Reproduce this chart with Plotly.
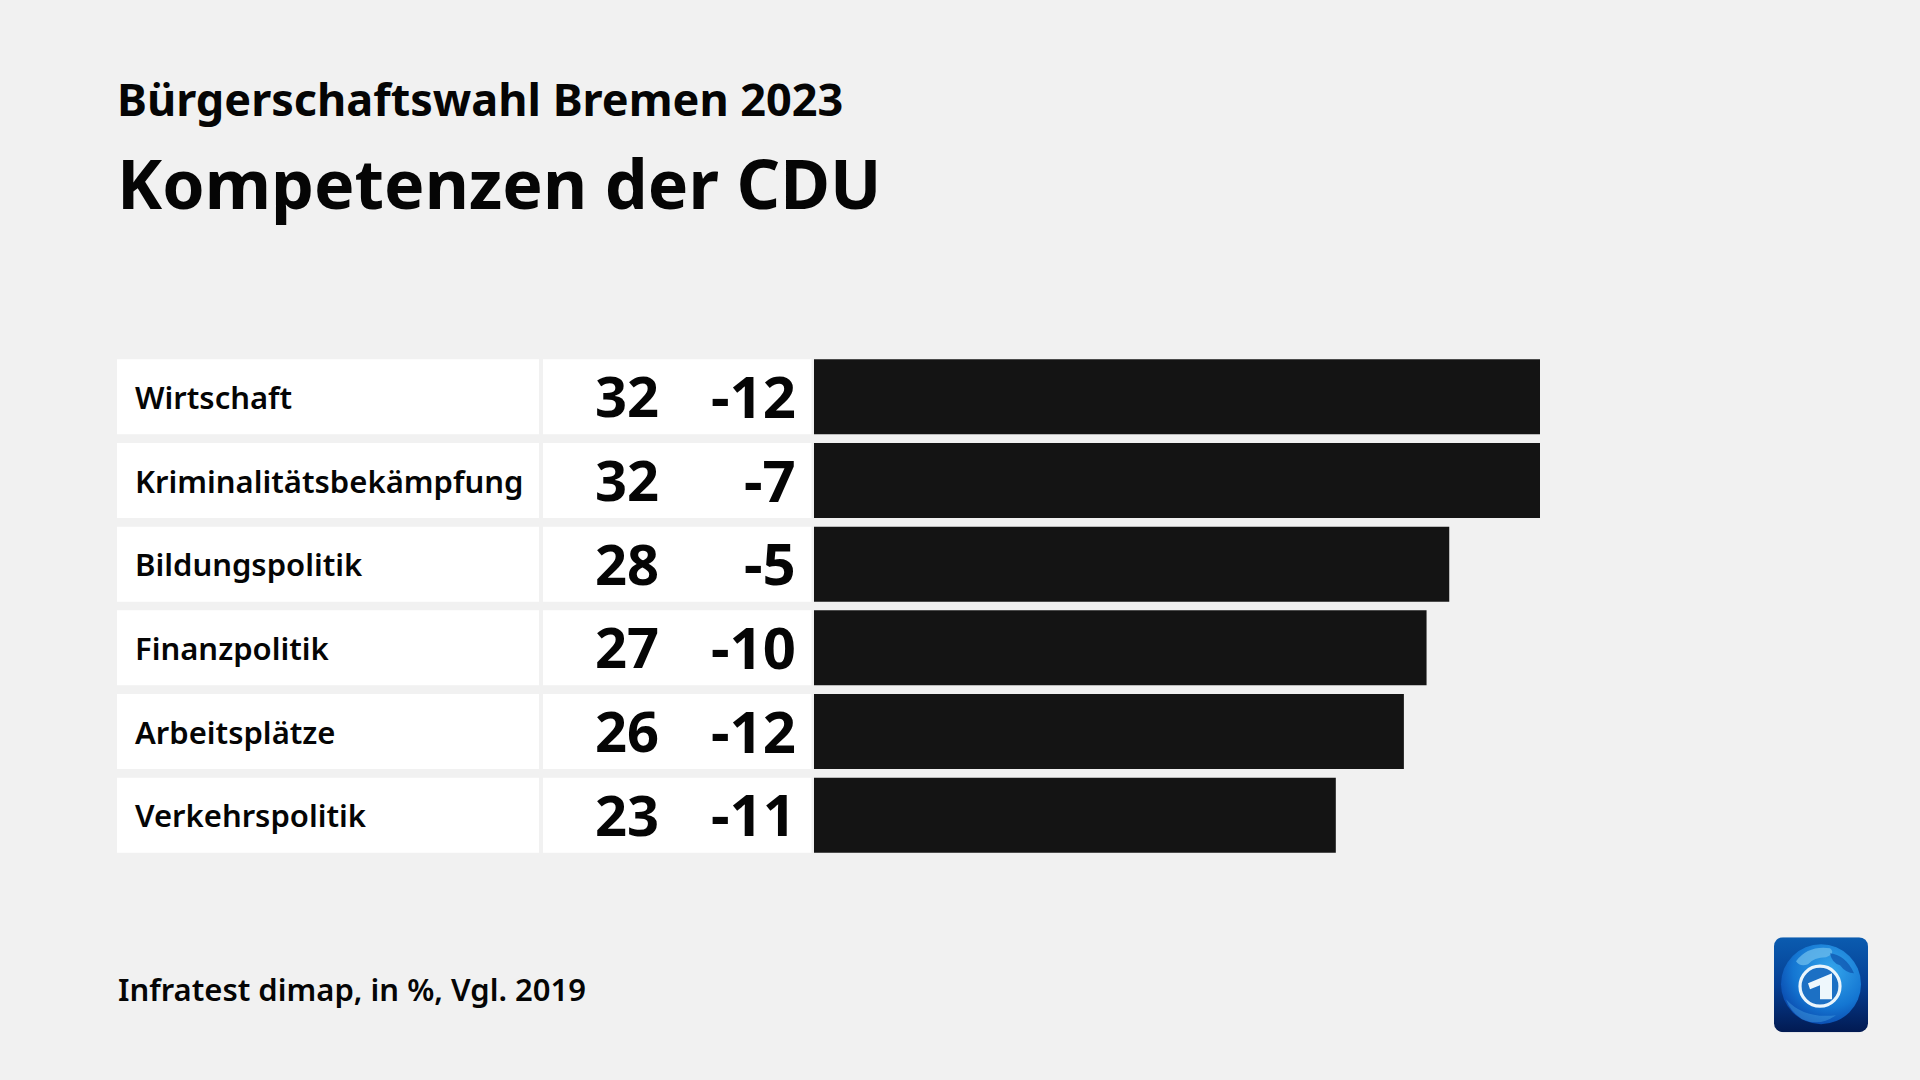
import base64
import plotly.graph_objects as go

categories = ["Wirtschaft", "Kriminalitätsbekämpfung", "Bildungspolitik", "Finanzpolitik", "Arbeitsplätze", "Verkehrspolitik"]
values = [32, 32, 28, 27, 26, 23]
changes = [-12, -7, -5, -10, -12, -11]
subtitle = "Bürgerschaftswahl Bremen 2023"
title = "Kompetenzen der CDU"
source = "Infratest dimap, in %, Vgl. 2019"

W, H = 1920, 1080
FONT = "Noto Sans"
INK = "#050505"
BG = "#f1f1f1"

logo_svg = """<svg xmlns='http://www.w3.org/2000/svg' viewBox='0 0 94 95' width='94' height='95'>
<defs>
<linearGradient id='bg' x1='0' y1='0' x2='0' y2='1'><stop offset='0' stop-color='#0b5cb0'/><stop offset='0.5' stop-color='#053f94'/><stop offset='1' stop-color='#021a52'/></linearGradient>
<radialGradient id='gl' cx='0.62' cy='0.32' r='0.85'><stop offset='0' stop-color='#35a6ec'/><stop offset='0.55' stop-color='#1476d2'/><stop offset='1' stop-color='#05329a'/></radialGradient>
</defs>
<rect width='94' height='95' rx='9' fill='url(#bg)'/>
<circle cx='47' cy='47' r='40' fill='url(#gl)'/>
<path d='M22 24 Q34 8 56 11 Q62 16 52 20 Q40 20 34 27 Q26 30 22 24Z' fill='#6cbcec' opacity='0.75'/>
<path d='M56 16 Q72 18 80 36 Q72 36 66 28 Q58 26 56 16Z' fill='#0b4da8' opacity='0.65'/>
<path d='M12 62 Q30 82 62 78 Q46 90 28 82 Q16 74 12 62Z' fill='#4aa8e6' opacity='0.4'/>
<circle cx='46' cy='49' r='20' fill='#1c70c4' stroke='#eaf5fc' stroke-width='3.2'/>
<path d='M34 46 L58 36 L58 62 L46 62 L46 48 L36 52Z' fill='#eef7fc'/>
</svg>"""
logo_uri = "data:image/svg+xml;base64," + base64.b64encode(logo_svg.encode()).decode()

PLOT_L, PLOT_R = 814, 1540
TOP, PITCH, BAR_H = 354.6, 83.7, 75
PW, PH = PLOT_R - PLOT_L, PITCH * 6
xp = lambda p: (p - PLOT_L) / PW
yp = lambda p: (H - p - (H - TOP - PH)) / PH

fig = go.Figure(go.Bar(
    y=categories, x=values, orientation="h",
    marker=dict(color="#141414", line_width=0), width=BAR_H / PITCH,
    hoverinfo="skip",
))

shapes = []
annotations = []
for i, (c, v, d) in enumerate(zip(categories, values, changes)):
    for x0, x1 in ((117, 539), (543, 811.5)):
        shapes.append(dict(type="rect", layer="below", xref="paper", yref="y",
                           x0=xp(x0), x1=xp(x1),
                           y0=i - BAR_H / PITCH / 2, y1=i + BAR_H / PITCH / 2,
                           fillcolor="white", line_width=0))
    annotations.append(dict(xref="paper", yref="y", x=xp(133), y=c, text=c,
                            xanchor="left", yanchor="middle", showarrow=False,
                            font=dict(family=FONT, size=31, color=INK, weight=650)))
    annotations.append(dict(xref="paper", yref="paper", x=xp(661), y=yp(396.5 + i * PITCH - 1.5), text=str(v),
                            xanchor="right", yanchor="middle", showarrow=False,
                            font=dict(family=FONT, size=56, color=INK, weight=700)))
    annotations.append(dict(xref="paper", yref="paper", x=xp(798), y=yp(396.5 + i * PITCH - 1.5), text=str(d),
                            xanchor="right", yanchor="middle", showarrow=False,
                            font=dict(family=FONT, size=58, color=INK, weight=700)))


def head(text, left, y, size, weight):
    annotations.append(dict(xref="paper", yref="paper", x=xp(left), y=yp(y),
                            text=text, xanchor="left", yanchor="middle", showarrow=False,
                            font=dict(family=FONT, size=size, color=INK, weight=weight)))


head(subtitle, 115, 98, 45, 700)
head(title, 115, 182, 68, 680)
head(source, 116, 989, 31, 600)

fig.update_layout(
    width=W, height=H, autosize=False,
    paper_bgcolor=BG, plot_bgcolor="rgba(0,0,0,0)",
    margin=dict(l=PLOT_L, r=W - PLOT_R, t=TOP, b=H - TOP - PH, pad=0),
    showlegend=False, shapes=shapes, annotations=annotations,
    xaxis=dict(range=[0, 32], visible=False, fixedrange=True),
    yaxis=dict(type="category", autorange=False, range=[5.5, -0.5], visible=False, fixedrange=True),
    images=[dict(source=logo_uri, xref="paper", yref="paper",
                 x=xp(1774), y=yp(937), sizex=94 / PW, sizey=95 / PH,
                 xanchor="left", yanchor="top", sizing="stretch", layer="above")],
)

fig.write_html("out.html", config={"displayModeBar": False},
               post_script="document.body.style.margin='0';document.body.style.background='#f1f1f1';")
